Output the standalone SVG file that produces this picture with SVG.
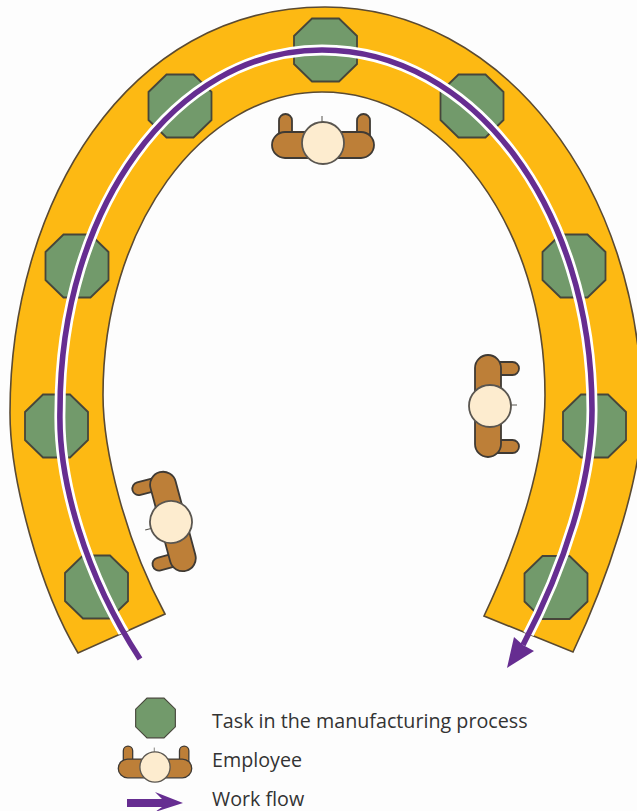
<svg xmlns="http://www.w3.org/2000/svg" xmlns:xlink="http://www.w3.org/1999/xlink" width="637" height="811" viewBox="0 0 637 811">
<style>
.band{fill:#fdb913;stroke:#5a4a32;stroke-width:1.6}
.task{fill:#729a6b;stroke:#46463a;stroke-width:1.8}
.body{fill:#bd7f38;stroke:#3f3a34;stroke-width:1.8}
.head{fill:#fdeccf;stroke:#5a5650;stroke-width:1.8}
.tick{stroke:#55524c;stroke-width:1;fill:none}
.flowcase{fill:none;stroke:#fff;stroke-width:11}
.flow{fill:none;stroke:#662d91;stroke-width:5.600}
.arrow{fill:#662d91}
text{font-family:"Open Sans","Noto Sans","Liberation Sans",sans-serif;font-size:19.7px;fill:#333}
</style>
<defs>
<polygon id="oct" class="task" points="-13.500,-31.500 13.500,-31.500 31.500,-14 31.500,14 13.500,31.500 -13.500,31.500 -31.500,14 -31.500,-14"/>
<g id="emp">
<rect class="body" x="-44" y="-29" width="13" height="30" rx="6.500"/>
<rect class="body" x="34" y="-29" width="13" height="30" rx="6.500"/>
<rect class="body" x="-51" y="-11" width="102" height="26" rx="13"/>
<line class="tick" x1="-1" y1="-27" x2="-1" y2="-21"/>
<circle class="head" cx="0" cy="0" r="21"/>
</g>
<clipPath id="bandclip"><path d="M78,653 C40,590 10,480 10,413 C10,205 125,7 325,7 C501,7 642,186 642,413 C642,480 605,585 573,652 L484,616 C520,540 545,460 545,395 C545,228 445,92 322,92 C201,92 103,228 103,395 C103,450 125,540 165,614 Z"/></clipPath>
</defs>
<rect width="637" height="811" fill="#fdfdfd"/>
<path id="band" class="band" d="M78,653 C40,590 10,480 10,413 C10,205 125,7 325,7 C501,7 642,186 642,413 C642,480 605,585 573,652 L484,616 C520,540 545,460 545,395 C545,228 445,92 322,92 C201,92 103,228 103,395 C103,450 125,540 165,614 Z"/>
<g id="task-1"><use xlink:href="#oct" href="#oct" x="96.500" y="587"/></g>
<g id="task-2"><use xlink:href="#oct" href="#oct" x="56.500" y="426"/></g>
<g id="task-3"><use xlink:href="#oct" href="#oct" x="77" y="266"/></g>
<g id="task-4"><use xlink:href="#oct" href="#oct" x="180" y="106"/></g>
<g id="task-5"><use xlink:href="#oct" href="#oct" x="325.500" y="50"/></g>
<g id="task-6"><use xlink:href="#oct" href="#oct" x="472" y="106"/></g>
<g id="task-7"><use xlink:href="#oct" href="#oct" x="574" y="266"/></g>
<g id="task-8"><use xlink:href="#oct" href="#oct" x="594.500" y="426"/></g>
<g id="task-9"><use xlink:href="#oct" href="#oct" x="556" y="587.500"/></g>
<g id="employee-1"><use xlink:href="#emp" href="#emp" transform="translate(323,143)"/></g>
<g id="employee-2"><use xlink:href="#emp" href="#emp" transform="translate(490,406) rotate(90)"/></g>
<g id="employee-3"><use xlink:href="#emp" href="#emp" transform="translate(171,522) rotate(-105)"/></g>
<g id="connectors">
<g clip-path="url(#bandclip)"><path class="flowcase" d="M140,659 C85,575 58,480 60,410 C60,208 175,50 322,50 C473,50 592,208 592,410 C592,480 565,565 523,645"/></g>
<path class="flow" d="M140,659 C85,575 58,480 60,410 C60,208 175,50 322,50 C473,50 592,208 592,410 C592,480 565,565 523,645"/>
<polygon class="arrow" points="507,668 514,637 523,645 534,651"/>
</g>
<g id="legend-task"><use xlink:href="#oct" href="#oct" transform="translate(155.500,718) scale(.63)"/><text x="212" y="728">Task in the manufacturing process</text></g>
<g id="legend-employee"><use xlink:href="#emp" href="#emp" transform="translate(155,767) scale(.72)"/><text x="212" y="767">Employee</text></g>
<g id="legend-flow"><polygon class="arrow" points="127,799 162,799 155,792 183,803 155,812 162,807 127,807"/><text x="212" y="806">Work flow</text></g>
</svg>
